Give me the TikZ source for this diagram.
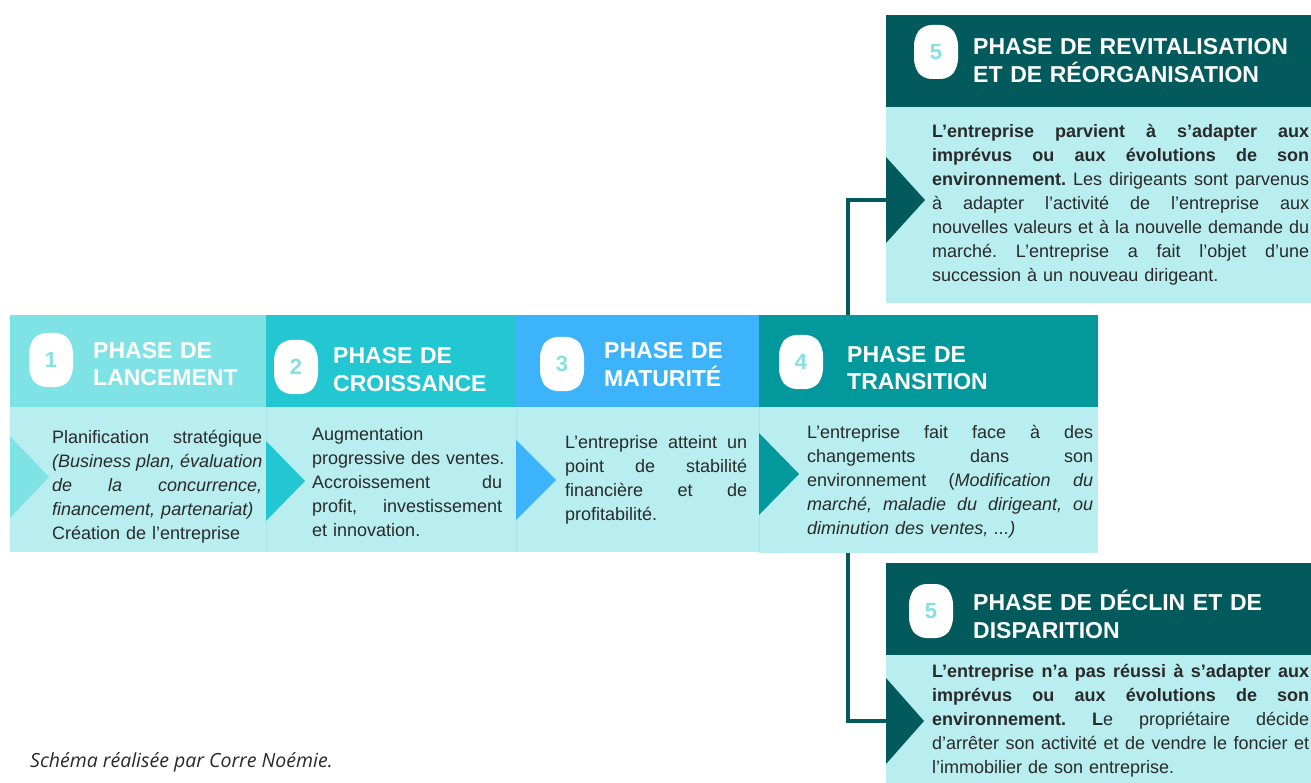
\documentclass[tikz,border=0pt]{standalone}
\usepackage{fontspec}
\setmainfont{Liberation Sans}
\newfontfamily\capfont{Open Sans}
\definecolor{cA}{HTML}{7FE3E6}
\definecolor{cB}{HTML}{22C7D2}
\definecolor{cC}{HTML}{3CB3FB}
\definecolor{cD}{HTML}{03989B}
\definecolor{cE}{HTML}{035A5C}
\definecolor{bodyc}{HTML}{B8EEF0}
\definecolor{sepc}{HTML}{A9E4E8}
\definecolor{numc}{HTML}{86E0E4}
\definecolor{txtc}{HTML}{2A2A2A}
\newcommand\jl[2]{\leavevmode\hbox to #1{#2}}
\newcommand\s{\hskip 5pt plus 1fil\relax}
\newcommand\bodyfont{\fontsize{18}{24}\selectfont}
\newcommand\badgeshape[2]{%
  \begin{scope}[shift={(#1,#2)}]
    \fill[white, rounded corners=8pt] (-22,-15) -- (-13,-27) -- (13,-27) -- (22,-15) -- (22,15) -- (13,27) -- (-13,27) -- (-22,15) -- cycle;
  \end{scope}}
\begin{document}
\begin{tikzpicture}[x=1pt,y=-1pt,
  box/.style={rectangle, inner sep=0pt, outer sep=0pt, anchor=north west, draw=none},
  hdrtext/.style={anchor=base west, inner sep=0pt, text=white, font=\fontsize{23}{28}\selectfont\bfseries},
  bodytext/.style={anchor=base west, inner sep=0pt, text=txtc, font=\bodyfont},
  badge/.style={rectangle, minimum width=44pt, minimum height=54pt, inner sep=0pt, text=numc, font=\fontsize{22}{22}\selectfont\bfseries},
  conn/.style={draw=cE, line width=4pt},
  sepline/.style={draw=sepc, line width=1pt}
]
\useasboundingbox (0,0) rectangle (1311,783);
\fill[white] (0,0) rectangle (1311,783);

% boxes of phases 4 and 5
\node[box, minimum width=339pt, minimum height=92pt, fill=cD] (h4) at (759,315) {};
\node[box, minimum width=339pt, minimum height=146pt, fill=bodyc] (b4) at (759,407) {};
\node[box, minimum width=425pt, minimum height=92pt, fill=cE] (h5a) at (886,15) {};
\node[box, minimum width=425pt, minimum height=196pt, fill=bodyc] (b5a) at (886,107) {};
\node[box, minimum width=425pt, minimum height=92pt, fill=cE] (h5b) at (886,563) {};
\node[box, minimum width=425pt, minimum height=128pt, fill=bodyc] (b5b) at (886,655) {};
\draw[conn] (848,0 |- h4.north) |- (b5a.west |- 0,200);
\draw[conn] (848,0 |- b4.south) |- (b5b.west |- 0,721);

% headers and bodies of phases 1-3
\node[box, minimum width=256pt, minimum height=92pt, fill=cA] (h1) at (10,315) {};
\node[box, minimum width=250pt, minimum height=92pt, fill=cB] (h2) at (266,315) {};
\node[box, minimum width=243pt, minimum height=92pt, fill=cC] (h3) at (516,315) {};
\node[box, minimum width=256pt, minimum height=145pt, fill=bodyc] (b1) at (10,407) {};
\node[box, minimum width=250pt, minimum height=145pt, fill=bodyc] (b2) at (266,407) {};
\node[box, minimum width=243pt, minimum height=145pt, fill=bodyc] (b3) at (516,407) {};
\draw[sepline] (b1.north east) -- (b1.south east);
\draw[sepline] (b2.north east) -- (b2.south east);
\draw[sepline] (b3.north east) -- (b3.south east);

% triangles
\fill[cA] (10,436) -- (49,477) -- (10,518) -- cycle;
\fill[cB] (266,441) -- (305,481) -- (266,521) -- cycle;
\fill[cC] (516,440) -- (556,480) -- (516,520) -- cycle;
\fill[cD] (759,433) -- (799,474) -- (759,515) -- cycle;
\fill[cE] (886,157) -- (925,200) -- (886,243) -- cycle;
\fill[cE] (886,678) -- (924,721) -- (886,764) -- cycle;

% badges
\badgeshape{51}{360}
\badgeshape{296}{367}
\badgeshape{562}{364}
\badgeshape{801}{362}
\badgeshape{936}{52}
\badgeshape{931}{611}
\node[badge] (n1) at (51,360) {1};
\node[badge] (n2) at (296,367) {2};
\node[badge] (n3) at (562,364) {3};
\node[badge] (n4) at (801,362) {4};
\node[badge] (n5a) at (936,52) {5};
\node[badge] (n5b) at (931,611) {5};

% header texts
\node[hdrtext, text width=170pt] (t1) at (93,358) {PHASE DE\\LANCEMENT};
\node[hdrtext, text width=175pt] (t2) at (333,363) {PHASE DE\\CROISSANCE};
\node[hdrtext, text width=150pt] (t3) at (604,359) {PHASE DE\\MATURIT\'E};
\node[hdrtext, text width=240pt] (t4) at (847,362) {PHASE DE\\TRANSITION};
\node[hdrtext, text width=335pt] (t5a) at (973,55) {PHASE DE REVITALISATION\\ET DE R\'EORGANISATION};
\node[hdrtext, text width=335pt] (t5b) at (973,610) {PHASE DE D\'ECLIN ET DE\\DISPARITION};

% body texts
\node[bodytext, text width=214pt] (x1) at (52,443) {\jl{210pt}{Planification\s stratégique}\\
\jl{210pt}{\textit{(Business\s plan,\s évaluation}}\\
\jl{210pt}{\textit{de\s la\s concurrence,}}\\
\textit{financement, partenariat)}\\
Création de l'entreprise};

\node[bodytext, text width=196pt] (x2) at (312,440) {Augmentation\\
\mbox{progressive des ventes.}\\
\jl{190pt}{Accroissement\s du}\\
\jl{190pt}{profit,\s investissement}\\
et innovation.};

\node[bodytext, text width=186pt] (x3) at (565,448) {\jl{182pt}{L'entreprise\s atteint\s un}\\
\jl{182pt}{point\s de\s stabilité}\\
\jl{182pt}{financière\s et\s de}\\
profitabilité.};

\node[bodytext, text width=290pt] (x4) at (807,438) {\jl{286pt}{L'entreprise\s fait\s face\s à\s des}\\
\jl{286pt}{changements\s dans\s son}\\
\jl{286pt}{environnement\s (\textit{Modification\s du}}\\
\jl{286pt}{\textit{marché,\s maladie\s du\s dirigeant,\s ou}}\\
\textit{diminution des ventes, ...)}};

\node[bodytext, text width=381pt] (x5a) at (932,138) {\jl{377pt}{\textbf{L'entreprise\s parvient\s à\s s'adapter\s aux}}\\
\jl{377pt}{\textbf{imprévus\s ou\s aux\s évolutions\s de\s son}}\\
\jl{377pt}{\textbf{environnement.}\s Les\s dirigeants\s sont\s parvenus}\\
\jl{377pt}{à\s adapter\s l'activité\s de\s l'entreprise\s aux}\\
\jl{377pt}{nouvelles\s valeurs\s et\s à\s la\s nouvelle\s demande\s du}\\
\jl{377pt}{marché.\s L'entreprise\s a\s fait\s l'objet\s d'une}\\
succession à un nouveau dirigeant.};

\node[bodytext, text width=381pt] (x5b) at (932,677) {\jl{377pt}{\textbf{L'entreprise\s n'a\s pas\s réussi\s à\s s'adapter\s aux}}\\
\jl{377pt}{\textbf{imprévus\s ou\s aux\s évolutions\s de\s son}}\\
\jl{377pt}{\textbf{environnement.}\s \textbf{L}e\s propriétaire\s décide}\\
\jl{377pt}{d'arrêter\s son\s activité\s et\s de\s vendre\s le\s foncier\s et}\\
l'immobilier de son entreprise.};

% caption
\node[anchor=base west, inner sep=0pt, text=txtc, font=\capfont\fontsize{19.5}{23}\selectfont\itshape] (cap) at (30,767) {Schéma réalisée par Corre Noémie.};
\end{tikzpicture}
\end{document}
